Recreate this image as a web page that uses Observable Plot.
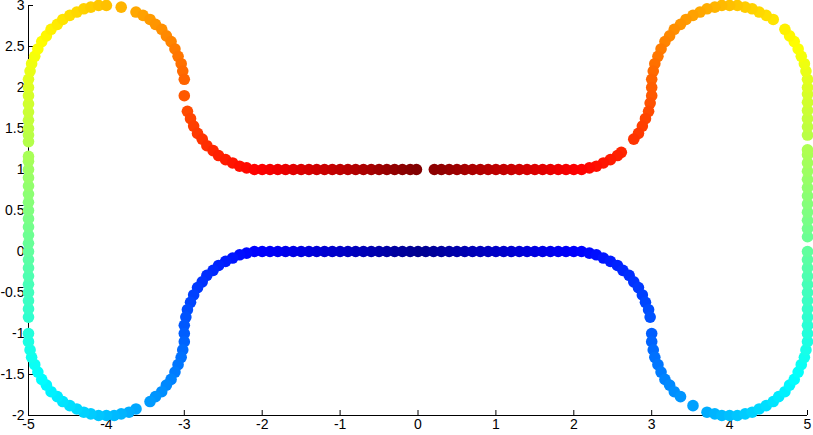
<!DOCTYPE html>
<html><head><meta charset="utf-8">
<script src="https://cdn.jsdelivr.net/npm/d3@7"></script>
<script src="https://cdn.jsdelivr.net/npm/@observablehq/plot@0.6"></script>
<style>body{margin:0;background:#fff} svg{display:block}</style>
</head><body><div id="chart"></div>
<script>
// tick values
const xTicks = [-5, -4, -3, -2, -1, 0, 1, 2, 3, 4, 5];
const yTicks = [-2, -1.5, -1, -0.5, 0, 0.5, 1, 1.5, 2, 2.5, 3];
// jet colormap stops
const jetStops = [0, 0.125, 0.375, 0.625, 0.875, 1];
const jetColors = ["#00008f", "#0000ff", "#00ffff", "#ffff00", "#ff0000", "#800000"];

// points: [x, y, colour value]
const lowerLeft = [
[0,0,0],[-0.1,0,.006],[-0.2,0,.012],[-0.3,0,.018],[-0.4,0,.024],[-0.5,0,.030],[-0.6,0,.037],[-0.7,0,.043],[-0.8,0,.049],[-0.9,0,.055],[-1.0,0,.061],[-1.1,0,.067],[-1.2,0,.073],[-1.3,0,.079],[-1.4,0,.085],[-1.5,0,.091],[-1.6,0,.097],[-1.7,0,.103],[-1.8,0,.110],[-1.9,0,.116],[-2.0,0,.122],
[-2.10,0.00,.128],[-2.20,-0.02,.134],[-2.29,-0.04,.139],[-2.38,-0.08,.146],[-2.47,-0.12,.152],[-2.56,-0.17,.158],[-2.63,-0.23,.164],[-2.71,-0.29,.170],[-2.77,-0.37,.175],[-2.83,-0.44,.181],[-2.88,-0.53,.188],[-2.92,-0.62,.194],[-2.96,-0.71,.200],[-2.98,-0.80,.205],[-3.00,-0.90,.211],[-3.00,-1.00,.217],
[-3.00,-1.10,.223],[-3.02,-1.20,.230],[-3.04,-1.29,.236],[-3.08,-1.38,.241],[-3.12,-1.47,.247],[-3.17,-1.56,.253],[-3.23,-1.63,.259],[-3.29,-1.71,.265],[-3.37,-1.77,.271],[-3.44,-1.83,.277],
[-3.62,-1.92,.289],[-3.71,-1.96,.295],[-3.81,-1.98,.301],[-3.90,-2.00,.307],[-4.00,-2.00,.313],[-4.10,-2.00,.319],[-4.20,-1.98,.325],[-4.29,-1.96,.331],[-4.38,-1.92,.337],[-4.47,-1.88,.343],[-4.56,-1.83,.349],[-4.63,-1.77,.355],[-4.71,-1.71,.361],[-4.77,-1.63,.367],[-4.83,-1.56,.373],[-4.88,-1.47,.379],[-4.92,-1.38,.385],[-4.96,-1.29,.391],[-4.98,-1.20,.397],[-5.00,-1.10,.402],[-5.00,-1.00,.409]
];
const outerLeft = [
[-5,-0.8,.421],[-5,-0.7,.427],[-5,-0.6,.433],[-5,-0.5,.439],[-5,-0.4,.445],[-5,-0.3,.451],[-5,-0.2,.457],[-5,-0.1,.463],[-5,0,.470],[-5,0.1,.476],[-5,0.2,.482],[-5,0.3,.488],[-5,0.4,.494],[-5,0.5,.500],[-5,0.6,.506],[-5,0.7,.512],[-5,0.8,.518],[-5,0.9,.524],[-5,1.0,.530],[-5,1.1,.536],[-5,1.16,.540],
[-5,1.34,.551],[-5,1.42,.556],[-5,1.5,.561],[-5,1.6,.567],[-5,1.7,.573],[-5,1.8,.579],[-5,1.9,.585],[-5,2.0,.591]
];
const upperLeft = [
[-5.00,2.10,.597],[-4.98,2.20,.603],[-4.96,2.29,.609],[-4.92,2.38,.615],[-4.88,2.47,.621],[-4.83,2.56,.627],[-4.77,2.63,.633],[-4.71,2.71,.639],[-4.63,2.77,.645],[-4.56,2.83,.651],[-4.47,2.88,.657],[-4.38,2.92,.663],[-4.29,2.96,.669],[-4.20,2.98,.675],[-4.10,3.00,.681],[-4.00,3.00,.687],
[-3.81,2.98,.699],
[-3.62,2.92,.711],[-3.53,2.88,.717],[-3.44,2.83,.723],[-3.37,2.77,.729],[-3.29,2.71,.735],[-3.23,2.63,.741],[-3.17,2.56,.746],[-3.12,2.47,.753],[-3.08,2.38,.759],[-3.04,2.29,.765],[-3.02,2.20,.771],[-3.00,2.10,.777],
[-3.00,1.90,.789],
[-2.96,1.71,.801],[-2.92,1.62,.807],[-2.88,1.53,.813],[-2.83,1.44,.818],[-2.77,1.37,.824],[-2.71,1.29,.830],[-2.63,1.23,.837],[-2.56,1.17,.843],[-2.47,1.12,.848],[-2.38,1.08,.854],[-2.29,1.04,.860],[-2.20,1.02,.866],[-2.10,1.00,.872],[-2.00,1.00,.878],
[-1.9,1,.884],[-1.8,1,.890],[-1.7,1,.896],[-1.6,1,.903],[-1.5,1,.909],[-1.4,1,.915],[-1.3,1,.921],[-1.2,1,.927],[-1.1,1,.933],[-1.0,1,.939],[-0.9,1,.945],[-0.8,1,.951],[-0.7,1,.957],[-0.6,1,.963],[-0.5,1,.970],[-0.4,1,.976],[-0.3,1,.982],[-0.2,1,.988],[-0.1,1,.994],[-0.02,1,.999]
];
const lowerRight = [
[0.1,0,.006],[0.2,0,.012],[0.3,0,.018],[0.4,0,.024],[0.5,0,.030],[0.6,0,.037],[0.7,0,.043],[0.8,0,.049],[0.9,0,.055],[1.0,0,.061],[1.1,0,.067],[1.2,0,.073],[1.3,0,.079],[1.4,0,.085],[1.5,0,.091],[1.6,0,.097],[1.7,0,.103],[1.8,0,.110],[1.9,0,.116],[2.0,0,.122],
[2.10,0.00,.128],[2.20,-0.02,.134],[2.29,-0.04,.139],[2.38,-0.08,.146],[2.47,-0.12,.152],[2.56,-0.17,.158],[2.63,-0.23,.164],[2.71,-0.29,.170],[2.77,-0.37,.175],[2.83,-0.44,.181],[2.88,-0.53,.188],[2.92,-0.62,.194],[2.96,-0.71,.200],[2.98,-0.80,.205],
[3.00,-1.00,.217],
[3.00,-1.10,.223],[3.02,-1.20,.230],[3.04,-1.29,.236],[3.08,-1.38,.241],[3.12,-1.47,.247],[3.17,-1.56,.253],[3.23,-1.63,.259],[3.29,-1.71,.265],[3.37,-1.77,.271],
[3.53,-1.88,.283],
[3.71,-1.96,.295],[3.81,-1.98,.301],[3.90,-2.00,.307],[4.00,-2.00,.313],[4.10,-2.00,.319],[4.20,-1.98,.325],[4.29,-1.96,.331],[4.38,-1.92,.337],[4.47,-1.88,.343],[4.56,-1.83,.349],[4.63,-1.77,.355],[4.71,-1.71,.361],[4.77,-1.63,.367],[4.83,-1.56,.373],[4.88,-1.47,.379],[4.92,-1.38,.385],[4.96,-1.29,.391],[4.98,-1.20,.397],[5.00,-1.10,.402],[5.00,-1.00,.409]
];
const outerRight = [
[5,-0.9,.415],[5,-0.8,.421],[5,-0.7,.427],[5,-0.6,.433],[5,-0.5,.439],[5,-0.4,.445],[5,-0.3,.451],[5,-0.2,.457],[5,-0.1,.463],[5,0,.470],
[5,0.18,.480],[5,0.28,.487],[5,0.38,.493],[5,0.48,.499],[5,0.58,.505],[5,0.68,.511],[5,0.78,.517],[5,0.88,.523],[5,0.98,.529],[5,1.08,.535],[5,1.18,.541],[5,1.24,.545],
[5,1.42,.556],[5,1.52,.562],[5,1.62,.568],[5,1.72,.574],[5,1.82,.580],[5,1.92,.586],[5,2.0,.591]
];
const upperRight = [
[5.00,2.10,.597],[4.98,2.20,.603],[4.96,2.29,.609],[4.92,2.38,.615],[4.88,2.47,.621],[4.83,2.56,.627],[4.77,2.63,.633],[4.71,2.71,.639],
[4.56,2.83,.651],[4.47,2.88,.657],[4.38,2.92,.663],[4.29,2.96,.669],[4.20,2.98,.675],[4.10,3.00,.681],[4.00,3.00,.687],[3.90,3.00,.693],[3.81,2.98,.699],[3.71,2.96,.705],[3.62,2.92,.711],[3.53,2.88,.717],[3.44,2.83,.723],[3.37,2.77,.729],[3.29,2.71,.735],[3.23,2.63,.741],[3.17,2.56,.746],[3.12,2.47,.753],[3.08,2.38,.759],[3.04,2.29,.765],[3.02,2.20,.771],[3.00,2.10,.777],[3.00,2.00,.783],
[3.00,1.90,.789],[2.98,1.81,.795],[2.96,1.71,.801],[2.92,1.62,.807],[2.88,1.53,.813],[2.83,1.44,.818],[2.77,1.37,.824],
[2.61,1.21,.838],[2.56,1.17,.843],[2.47,1.12,.848],[2.38,1.08,.854],[2.29,1.04,.860],[2.20,1.02,.866],[2.10,1.00,.872],[2.00,1.00,.878],
[1.9,1,.884],[1.8,1,.890],[1.7,1,.896],[1.6,1,.903],[1.5,1,.909],[1.4,1,.915],[1.3,1,.921],[1.2,1,.927],[1.1,1,.933],[1.0,1,.939],[0.9,1,.945],[0.8,1,.951],[0.7,1,.957],[0.6,1,.963],[0.5,1,.970],[0.4,1,.976],[0.3,1,.982],[0.21,1,.987]
];

const points = [lowerLeft, outerLeft, upperLeft, lowerRight, outerRight, upperRight]
  .flat().map(([x, y, t]) => ({x, y, t}));

const W = 813, H = 435, mT = 5, mR = 6, mB = 20, mL = 28;
const chart = Plot.plot({
  width: W, height: H,
  marginTop: mT, marginRight: mR, marginBottom: mB, marginLeft: mL,
  style: {fontFamily: "'Liberation Sans', Arial, Helvetica, sans-serif", fontSize: "14px", color: "black", background: "white", overflow: "visible"},
  x: {domain: [-5, 5], label: null},
  y: {domain: [-2, 3], label: null},
  color: {type: "linear", domain: jetStops, range: jetColors, interpolate: "rgb"},
  marks: [
    Plot.ruleX([-5], {stroke: "black"}),
    Plot.ruleY([-2], {stroke: "black"}),
    Plot.tickX(xTicks, {x: d => d, stroke: "black", insetTop: H - mT - mB - 5}),
    Plot.tickY(yTicks, {y: d => d, stroke: "black", insetRight: W - mL - mR - 5}),
    Plot.axisX(xTicks, {tickSize: 0, tickPadding: 4, tickFormat: d => String(d), fill: "black", fontSize: 14, label: null}),
    Plot.axisY(yTicks, {tickSize: 0, tickPadding: 4, tickFormat: d => String(d), fill: "black", fontSize: 14, label: null}),
    Plot.dot(points, {x: "x", y: "y", fill: "t", r: 5.8})
  ]
});
document.getElementById("chart").appendChild(chart);
</script>
</body></html>
